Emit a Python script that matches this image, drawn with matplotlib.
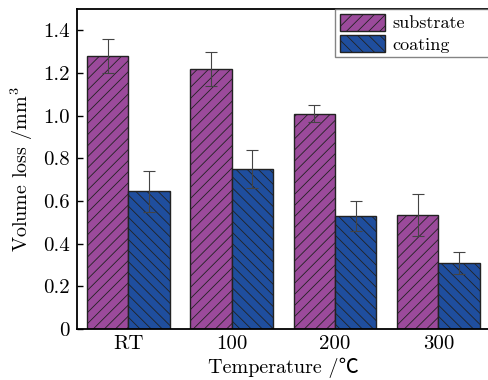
import numpy as np
import matplotlib.pyplot as plt

categories = ['RT', '100', '200', '300']
substrate = [1.28, 1.22, 1.01, 0.535]
substrate_err = [0.08, 0.08, 0.04, 0.10]
coating = [0.645, 0.75, 0.53, 0.31]
coating_err = [0.095, 0.09, 0.07, 0.05]
yticks = [0, 0.2, 0.4, 0.6, 0.8, 1.0, 1.2, 1.4]
ytick_labels = ['0', '0.2', '0.4', '0.6', '0.8', '1.0', '1.2', '1.4']

plt.rcParams['font.family'] = ['cmr10', 'Noto Sans CJK SC', 'DejaVu Serif']
plt.rcParams['mathtext.fontset'] = 'cm'
plt.rcParams['hatch.color'] = '#222222'
plt.rcParams['hatch.linewidth'] = 0.6

fig = plt.figure(figsize=(4.89, 3.8), dpi=100)
ax = fig.add_axes([0.157, 0.134, 0.845, 0.842])

x = np.arange(len(categories))
w = 0.4
ax.bar(x - w/2, substrate, w, color='#9b4a9b', edgecolor='#222222', linewidth=1,
       hatch='///', label='substrate')
ax.bar(x + w/2, coating, w, color='#1f4e9e', edgecolor='#222222', linewidth=1,
       hatch='\\\\\\', label='coating')
ax.errorbar(x - w/2, substrate, yerr=substrate_err, fmt='none', ecolor='#444444',
            elinewidth=0.8, capsize=4, capthick=0.8)
ax.errorbar(x + w/2, coating, yerr=coating_err, fmt='none', ecolor='#444444',
            elinewidth=0.8, capsize=4, capthick=0.8)

ax.set_xlim(-0.5, 3.5)
ax.set_ylim(0, 1.5)
ax.set_xticks(x)
ax.set_xticklabels(categories, fontsize=15)
ax.set_yticks(yticks)
ax.set_yticklabels(ytick_labels, fontsize=15)
ax.tick_params(axis='x', length=0, pad=4)
ax.tick_params(axis='y', direction='in', length=4, width=1, pad=5)
for s in ax.spines.values():
    s.set_linewidth(1.3)

ax.set_ylabel('Volume loss /mm$^3$', fontsize=14.5, labelpad=6)
ax.set_xlabel('Temperature /℃', fontsize=14.5, labelpad=4)

leg = ax.legend(loc='upper left', bbox_to_anchor=(0.625, 0, 0.45, 1.0),
                mode='expand', borderaxespad=0,
                fontsize=13, fancybox=False, frameon=True, handlelength=2.5,
                handleheight=1.1, handletextpad=0.4, labelspacing=0.2,
                borderpad=0.25)
leg.get_frame().set_edgecolor('#666666')
leg.get_frame().set_linewidth(1)

fig.savefig('out.png', dpi=100)
